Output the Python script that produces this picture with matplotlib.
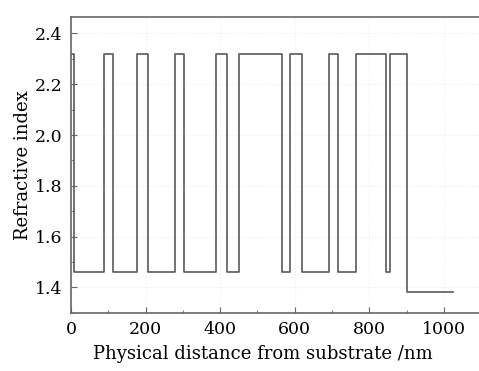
import numpy as np
import matplotlib.pyplot as plt
from matplotlib.ticker import MultipleLocator

# layer boundaries (nm) and refractive index of each layer
edges = [0, 8, 89, 113, 176, 207, 279, 303, 388, 417, 451, 565, 587, 619,
         691, 717, 765, 844, 856, 901, 1024]
n_high = 2.32
n_low = 1.46
n_sub = 1.38
index = [n_high, n_low] * 9 + [n_high, n_sub]

plt.rcParams['font.family'] = 'DejaVu Serif'

fig = plt.figure(figsize=(4.79, 3.71), dpi=100)
ax = fig.add_axes([0.148, 0.157, 0.857, 0.798])

ax.step(edges, index + [index[-1]], where='post', color='#5a5a5a', lw=1.2)

ax.set_xlim(0, 1100)
ax.set_ylim(1.3, 2.466)
ax.xaxis.set_major_locator(MultipleLocator(200))
ax.xaxis.set_minor_locator(MultipleLocator(100))
ax.yaxis.set_major_locator(MultipleLocator(0.2))
ax.yaxis.set_minor_locator(MultipleLocator(0.1))
ax.yaxis.set_major_formatter(plt.FormatStrFormatter('%.1f'))
ax.tick_params(which='both', direction='in', color='#666666', labelsize=12.5)
ax.tick_params(which='major', length=4, pad=6)
ax.tick_params(which='minor', length=2)
ax.grid(True, color='#eeeeee', linestyle=':', lw=0.8)
for s in ax.spines.values():
    s.set_color('#666666')
    s.set_linewidth(1.2)

ax.set_xlabel('Physical distance from substrate /nm', fontsize=13)
ax.xaxis.set_label_coords(0.468, -0.11)
ax.set_ylabel('Refractive index', fontsize=13, labelpad=2)

fig.savefig('out.png', dpi=100)
